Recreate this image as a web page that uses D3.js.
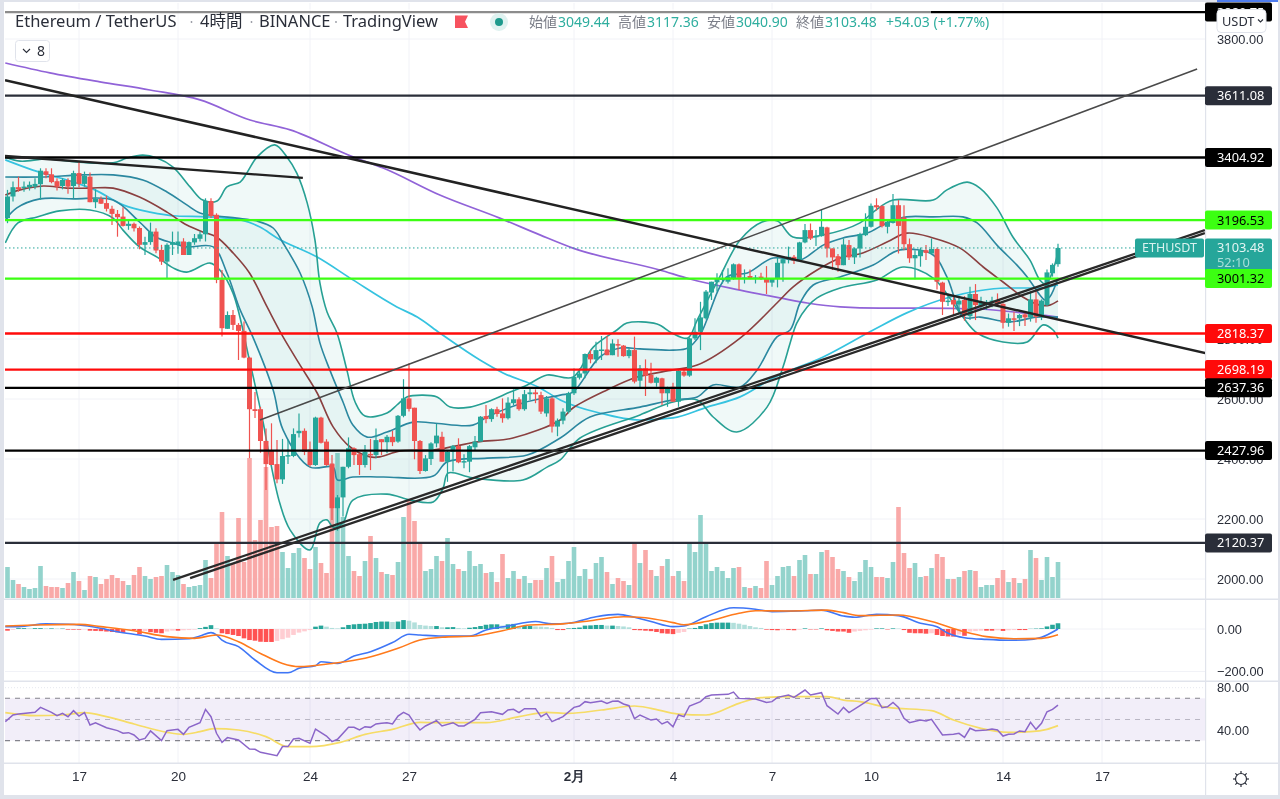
<!DOCTYPE html>
<html>
<head>
<meta charset="utf-8">
<script src="https://cdn.jsdelivr.net/npm/d3@7"></script>
<style>
  html, body { margin: 0; padding: 0; background: #fff; overflow: hidden; }
  svg { display: block; filter: blur(0.42px); font-family: "Noto Sans", "Noto Sans CJK JP", sans-serif; }
</style>
</head>
<body>
<script>
const width = 1280;
const height = 799;

// ohlc per 4h candle
const opens = [3203,3275,3306,3303,3306,3308,3316,3359,3349,3326,
    3310,3330,3310,3353,3317,3341,3256,3267,3253,3234,
    3217,3208,3177,3184,3170,3114,3123,3158,3097,3058,
    3114,3114,3125,3080,3122,3134,3149,3260,3214,2999,
    2834,2880,2847,2827,2738,2566,2566,2460,2428,2383,
    2332,2410,2410,2486,2494,2432,2380,2538,2458,2383,
    2236,2272,2374,2436,2416,2380,2417,2413,2466,2456,
    2474,2458,2544,2602,2571,2460,2360,2400,2452,2474,
    2391,2424,2443,2389,2391,2439,2458,2543,2533,2566,
    2552,2536,2586,2599,2566,2616,2622,2613,2552,2602,
    2508,2528,2558,2619,2671,2685,2750,2732,2761,2765,
    2746,2783,2778,2743,2763,2661,2702,2680,2654,2669,
    2619,2641,2591,2691,2678,2802,2824,2869,2955,2989,
    2999,2991,3002,3049,3002,3010,3002,3008,3002,2988,
    3000,3052,3069,3074,3063,3122,3163,3141,3143,3172,
    3102,3076,3046,3113,3072,3102,3146,3174,3246,3243,
    3174,3187,3246,3205,3116,3069,3076,3096,3085,3100,
    2988,2924,2930,2915,2930,2876,2950,2908,2919,2921,
    2930,2917,2854,2869,2869,2882,2872,2932,2874,2913,
    3019,3049.44];
const highs = [3297,3325,3341,3325,3325,3336,3369,3369,3369,3336,
    3336,3336,3361,3391,3358,3355,3299,3275,3278,3244,
    3230,3239,3197,3188,3175,3141,3188,3169,3114,3119,
    3158,3158,3136,3125,3150,3158,3269,3269,3219,3030,
    2892,2897,2853,2858,2741,2623,2574,2502,2519,2463,
    2467,2463,2502,2552,2502,2458,2541,2541,2466,2413,
    2280,2374,2472,2439,2419,2447,2467,2502,2466,2480,
    2494,2547,2666,2719,2571,2463,2413,2456,2517,2491,
    2430,2447,2469,2416,2447,2477,2543,2580,2569,2574,
    2602,2606,2632,2606,2630,2636,2632,2624,2610,2606,
    2535,2569,2624,2702,2702,2752,2763,2791,2810,2810,
    2799,2799,2780,2769,2808,2713,2732,2721,2674,2671,
    2641,2654,2696,2699,2804,2869,2924,2963,2991,3019,
    3030,3036,3052,3052,3032,3032,3013,3021,3043,3002,
    3072,3069,3108,3080,3124,3183,3185,3163,3232,3174,
    3102,3083,3135,3130,3105,3154,3219,3252,3269,3246,
    3196,3283,3263,3246,3135,3096,3105,3113,3135,3105,
    2991,2952,2943,2941,2943,2974,2983,2941,2930,2941,
    2952,2919,2885,2891,2883,2888,2958,2961,2932,3032,
    3052,3117.36];
const lows = [3186,3258,3291,3291,3295,3299,3264,3336,3319,3295,
    3299,3284,3269,3306,3308,3256,3236,3250,3225,3180,
    3141,3175,3164,3158,3099,3080,3114,3086,3047,3003,
    3080,3084,3080,3080,3114,3125,3125,3203,2986,2808,
    2834,2830,2730,2736,2403,2537,2421,2297,2380,2319,
    2317,2383,2406,2472,2413,2374,2377,2452,2377,2197,
    2161,2208,2369,2380,2347,2372,2363,2402,2413,2419,
    2443,2454,2539,2558,2399,2350,2358,2380,2439,2391,
    2324,2358,2386,2369,2356,2428,2458,2519,2524,2541,
    2521,2532,2580,2561,2561,2597,2586,2550,2541,2488,
    2476,2516,2552,2613,2665,2669,2719,2719,2730,2746,
    2746,2741,2741,2736,2652,2635,2610,2652,2641,2580,
    2574,2591,2574,2674,2674,2797,2763,2865,2930,2958,
    2985,2985,2997,2963,2985,2999,2985,2997,2950,2974,
    2972,2991,3052,3050,3060,3119,3130,3110,3141,3072,
    3030,3024,3046,3063,3050,3072,3143,3172,3228,3172,
    3152,3185,3085,3096,3054,2999,3041,3063,3080,2965,
    2880,2910,2877,2885,2861,2863,2863,2897,2897,2906,
    2908,2835,2841,2827,2843,2843,2858,2854,2863,2910,
    3008,3040.90];
const closes = [3275,3306,3299,3308,3314,3317,3361,3347,3323,3308,
    3330,3308,3353,3317,3344,3256,3267,3251,3234,3217,
    3206,3177,3184,3169,3114,3123,3158,3095,3058,3114,
    3123,3125,3080,3123,3136,3149,3260,3210,2997,2836,
    2880,2847,2827,2738,2566,2560,2460,2383,2380,2332,
    2410,2413,2483,2494,2424,2380,2538,2454,2380,2236,
    2272,2374,2436,2413,2380,2424,2413,2463,2456,2474,
    2456,2544,2602,2567,2460,2360,2402,2452,2478,2391,
    2424,2444,2389,2393,2443,2458,2541,2533,2566,2550,
    2536,2588,2599,2566,2616,2622,2616,2558,2602,2508,
    2528,2558,2619,2674,2685,2750,2732,2763,2765,2746,
    2785,2778,2743,2763,2658,2702,2678,2654,2671,2619,
    2638,2591,2694,2678,2802,2824,2872,2958,2991,3000,
    3002,3008,3049,3004,3005,3002,3005,3001,2988,3000,
    3054,3066,3074,3061,3122,3163,3135,3144,3174,3102,
    3072,3046,3115,3072,3102,3150,3174,3244,3239,3176,
    3191,3246,3177,3116,3069,3080,3096,3087,3100,2991,
    2924,2928,2915,2928,2880,2950,2913,2924,2924,2928,
    2917,2854,2869,2865,2880,2872,2932,2874,2928,3022,
    3047,3103.48];

// volume, relative units
const volumes = [31,18,14,11,9,10,32,12,11,11,
    10,15,26,17,8,22,21,14,19,23,
    20,17,13,23,31,22,19,21,22,33,
    26,23,14,11,12,13,38,20,55,86,
    42,34,80,36,140,58,78,131,71,72,
    46,30,45,50,40,29,51,35,25,135,
    145,81,42,27,22,37,62,40,26,24,
    23,36,81,98,77,56,27,29,42,37,
    60,34,29,27,47,32,34,25,26,16,
    44,20,27,19,22,15,18,18,30,42,
    16,19,37,51,22,29,19,35,41,26,
    14,20,17,13,56,35,48,28,22,32,
    39,22,27,17,54,46,83,54,27,31,
    27,20,30,31,11,10,12,10,37,13,
    22,31,32,22,38,43,24,24,46,48,
    41,29,27,21,17,26,38,31,21,21,
    20,36,91,45,30,35,21,22,30,44,
    41,19,19,21,27,28,27,11,13,13,
    20,28,16,20,15,19,48,40,18,41,
    21,36];

// macd histogram
const macdHist = [-8,-4,4,4,3,4,4,3,3,2,
    2,-3,-3,-3,-2,-8,-9,-10,-12,-14,
    -16,-18,-5,-5,-25,-10,-15,-18,-20,-12,
    -8,-8,-6,-5,-3,4,10,18,3,-20,
    -24,-28,-33,-44,-52,-55,-60,-61,-61,-56,
    -48,-41,-28,-17,-11,-5,11,16,11,5,
    3,8,19,22,24,25,28,33,35,35,
    33,35,42,39,31,19,16,14,14,8,
    8,9,5,3,6,9,14,20,22,22,
    16,22,24,14,14,14,12,11,9,5,
    -5,-5,3,5,7,16,17,19,19,16,
    16,14,12,8,-5,-6,-8,-10,-14,-20,
    -22,-24,-18,-14,2,5,14,22,28,30,
    30,30,29,25,20,14,8,5,-3,-5,
    -6,-5,-5,-6,-3,3,-2,-2,3,-6,
    -9,-12,-12,-18,-12,-9,-6,-3,3,3,
    -2,3,2,-5,-18,-20,-20,-22,-20,-28,
    -33,-35,-36,-26,-32,-12,-10,-8,-8,-8,
    -6,-9,-6,-5,-5,-5,1,2,3,12,
    20,27];

// line series are [candle index, value] pairs
const bbOuterUpper = [[-0.4,3407],[2.3,3393],[7.2,3400],[12.6,3390],[19.2,3387],[21.7,3403],[24.6,3413],[27.2,3403],[30.1,3373],[33.2,3307],[35.5,3263],[38.1,3260],[39.9,3307],[42.3,3323],[43.5,3353],[45.4,3407],[48.6,3447],[50.8,3407],[52.6,3353],[54.5,3253],[55.9,3130],[56.8,2987],[58.1,2890],[59.9,2820],[61.7,2697],[63.2,2590],[65,2543],[69,2553],[70.8,2580],[72.6,2607],[75.4,2613],[78.1,2607],[80.5,2573],[84.1,2573],[87.2,2590],[91.4,2623],[94.5,2647],[98.1,2680],[102.8,2673],[106.5,2773],[110.8,2830],[112.6,2853],[118.1,2850],[120.8,2820],[123.7,2803],[125.4,2863],[129.5,3007],[133.2,3130],[137.2,3190],[140,3193],[142.8,3140],[148.3,3147],[155,3187],[157.4,3223],[161,3263],[168.3,3263],[170.8,3297],[174.5,3323],[176.8,3303],[179.9,3237],[182.8,3140],[185.9,3063],[187.7,2997],[188.8,2983],[190.5,3053],[191,3097]];
const bbInnerUpper = [[-0.4,3340],[5.9,3340],[13.7,3347],[19.2,3347],[24.6,3330],[29,3290],[32.6,3247],[35,3220],[38.1,3210],[41.7,3203],[45.4,3193],[48.3,3170],[50.1,3120],[53.2,3020],[55.4,2907],[56.8,2787],[58.6,2697],[61,2590],[62.8,2513],[65.4,2473],[69,2490],[73.7,2523],[77.4,2520],[84.6,2513],[87.2,2540],[93.7,2587],[100.5,2613],[102.8,2623],[107.7,2740],[111.4,2770],[115,2767],[121,2763],[123.7,2770],[125.9,2813],[130.8,3007],[134.5,3020],[139.2,3070],[144.1,3063],[148.3,3113],[151.9,3137],[156.3,3153],[159.9,3187],[163.5,3207],[168.3,3207],[173.7,3207],[176.3,3187],[179.9,3113],[183.5,3047],[185.4,3007],[187.7,2947],[188.6,2930],[189.5,2940],[191,3003]];
const bbBasis = [[-0.4,3280],[2.3,3297],[6.5,3310],[10.8,3303],[15,3303],[19.2,3303],[24,3273],[29,3223],[32.6,3180],[35.5,3157],[38,3140],[41,3087],[44,3020],[47.2,2907],[50.1,2807],[53.4,2707],[56.3,2620],[59.2,2507],[62.3,2440],[65.9,2407],[67.7,2407],[71.4,2427],[77.4,2430],[85.4,2457],[91.9,2470],[100.5,2530],[102.8,2570],[109,2630],[114.5,2673],[121,2697],[125.4,2713],[133.2,2803],[139.9,2920],[142.8,2973],[147.2,3030],[151.4,3070],[155.5,3087],[159.9,3123],[163.5,3153],[168.3,3137],[173.2,3103],[177.4,3040],[181,2990],[184.6,2940],[187.7,2913],[189.5,2913],[191,2927]];
const bbInnerLower = [[-0.4,3197],[1.7,3237],[5.9,3267],[12,3267],[19.2,3263],[24,3190],[27,3140],[30,3120],[32.6,3107],[37.4,3107],[39.9,3020],[42.3,2897],[44.6,2807],[48.3,2630],[50.1,2497],[55,2373],[59.2,2373],[60,2330],[62.8,2340],[68.3,2340],[77.4,2343],[79.9,2390],[87.2,2403],[94.5,2413],[100.5,2470],[105.9,2540],[115,2573],[121,2597],[125.4,2607],[128.3,2647],[133.2,2640],[136.3,2697],[139.9,2807],[142.3,2830],[144.1,2920],[146.5,2980],[151.4,3007],[157.4,3047],[162.3,3097],[168.3,3080],[170.8,3007],[173.9,2873],[176.8,2873],[182.3,2857],[187,2873],[191,2873]];
const bbOuterLower = [[-0.4,3120],[1.9,3187],[5.4,3207],[9.5,3227],[15,3230],[19.2,3203],[21,3163],[24,3107],[27.2,3073],[30.1,3037],[32.6,3023],[36.8,3053],[38.6,3030],[41,2953],[44.1,2720],[46.5,2520],[47.4,2430],[49.5,2253],[51.4,2163],[55,2097],[56.8,2187],[58.1,2197],[59.2,2173],[61,2187],[62.8,2263],[69,2283],[73.2,2263],[77.4,2257],[79.2,2303],[80.1,2353],[84.6,2337],[93.7,2330],[98.1,2373],[100.5,2397],[104.1,2470],[115,2547],[121,2590],[125.4,2597],[128.3,2540],[132.6,2490],[138.1,2573],[141,2707],[142.3,2787],[143.5,2853],[145.4,2907],[147.2,2937],[151.4,2970],[158.1,2997],[162.8,3040],[168.3,3003],[173.7,2873],[176.3,2820],[181,2790],[185.4,2790],[188.3,2847],[190.1,2830],[191,2803]];
const maFast = [[-0.4,3397],[4.6,3363],[10.8,3330],[15.9,3297],[21,3247],[25.9,3223],[30.8,3210],[36.3,3207],[42.3,3197],[45.9,3173],[49,3137],[56.3,3073],[62.8,2997],[70.8,2907],[74.5,2873],[78.6,2820],[85.9,2730],[90.1,2687],[96.8,2637],[100.5,2597],[107.7,2553],[115,2530],[121,2537],[127.2,2573],[133.2,2607],[139.2,2670],[148.3,2740],[157.4,2830],[163.5,2887],[171.4,2940],[176.3,2960],[181.7,2970],[187.7,2970],[191,2980]];
const maSlow = [[-0.4,3720],[7.7,3687],[16.8,3657],[25.9,3630],[35,3597],[44.1,3530],[51.4,3497],[62.8,3407],[68.3,3370],[78.6,3280],[89.5,3203],[96.8,3147],[102.8,3103],[118.6,3030],[124.1,3000],[133.2,2963],[140.4,2937],[145.4,2920],[151.4,2907],[158.6,2903],[166.5,2903],[176.3,2900],[184.6,2887],[191,2873]];

const macdLine = [[-0.4,11],[2,11],[7,24],[11,22],[16,8],[20,-13],[25,-33],[28,-49],[33,-46],[35,-33],[37,-17],[38,-28],[39,-52],[42,-83],[45,-146],[49,-206],[51,-206],[53,-185],[56,-173],[57,-154],[60,-162],[63,-127],[66,-107],[70,-64],[73,-25],[75,-28],[79,-33],[84,-33],[87,-5],[91,14],[96,35],[99,24],[102,27],[107,58],[111,69],[114,55],[117,35],[121,11],[123,14],[127,58],[132,100],[136,93],[139,82],[145,86],[148,89],[152,61],[154,55],[158,69],[162,63],[166,27],[169,11],[171,-20],[174,-41],[178,-49],[182,-53],[185,-52],[188,-39],[191,0]];
const macdSignal = [[-0.4,14],[5,19],[13,22],[17,11],[23,-8],[29,-36],[34,-44],[38,-28],[42,-60],[46,-115],[50,-162],[53,-177],[59,-162],[65,-138],[71,-91],[75,-52],[79,-39],[85,-33],[90,-8],[95,19],[101,24],[106,39],[112,58],[116,53],[121,30],[123,20],[127,35],[133,74],[136,86],[142,85],[149,89],[152,77],[155,63],[162,66],[168,35],[174,-13],[178,-36],[183,-46],[188,-44],[191,-27]];

const rsiLine = [[-0.4,47.9],[1,54.2],[2,55.1],[5,56.7],[6,61.4],[8,56.7],[9,53.5],[10,55.7],[11,52.6],[12,58.3],[13,53.2],[14,56.4],[15,44.7],[16,46.9],[18,42.2],[20,39.4],[21,36.9],[22,37.5],[23,35.3],[24,30.6],[25,32.1],[26,39.1],[28,29.9],[29,39.4],[31,40.6],[32,35.9],[33,42.5],[35,46.9],[36,59.5],[37,52.6],[38,36.9],[39,28.3],[40,32.8],[42,30.6],[44,22],[45,21.7],[46,18.9],[49,15.7],[50,24.3],[51,24.3],[52,31.5],[53,32.1],[55,27.4],[56,40.9],[58,34.3],[59,29],[60,31.2],[62,42.5],[63,42.5],[64,40],[65,43.1],[66,42.5],[67,45.7],[68,46.3],[69,46.9],[70,45.7],[71,53.2],[72,56.7],[73,54.2],[74,46.3],[75,40],[76,43.8],[78,48.8],[79,43.8],[81,46.9],[82,43.8],[83,43.8],[85,50.1],[86,56.4],[88,57.3],[90,54.8],[91,58.9],[92,59.5],[93,56.4],[94,60.2],[96,60.2],[97,52.6],[98,55.7],[99,47.9],[101,52.6],[103,61.4],[104,62.7],[105,66.8],[106,65.8],[108,67.4],[109,65.2],[110,67.1],[111,67.4],[112,64.6],[113,63],[114,50.7],[115,54.2],[117,49.4],[118,50.4],[119,45.7],[120,47.9],[121,43.1],[122,54.2],[123,52.6],[124,62.7],[126,66.8],[127,71.5],[128,73.1],[131,73.7],[132,75.9],[133,69.9],[136,69.3],[138,66.1],[139,66.8],[140,70.9],[142,73.1],[143,70.9],[145,77.8],[146,73.1],[148,75.3],[149,63],[151,55.1],[152,61.4],[153,56.4],[155,63],[157,69.9],[158,69.9],[159,61.1],[160,62],[161,66.1],[162,61.4],[163,51],[164,46.9],[166,49.4],[167,48.5],[168,50.1],[170,35.3],[172,35.9],[173,36.9],[174,33.1],[175,41.6],[176,39.4],[178,40],[179,40.9],[180,40],[181,34.3],[182,35.9],[183,36.2],[184,39.1],[185,38.4],[186,47.2],[187,40.6],[188,46.3],[189,57.3],[190,59.5],[191,63.6]];
const rsiMa = [[-0.4,56.4],[5,53.5],[10,54.2],[14,56.4],[18,52.6],[23,45.7],[29,37.8],[32,35.9],[35,38.4],[37.5,41.3],[42,40],[47,33.7],[51,24.3],[55,24.3],[60.5,28.3],[65,35.9],[70,40.6],[75,47.2],[79,46.9],[87,46.9],[93,52.6],[98,56.7],[102,55.7],[108,58.9],[114,62.7],[117,60.5],[122,55.1],[127,54.2],[133,65.2],[137,70.6],[143,71.5],[149,71.5],[152,68.3],[155,66.8],[160,61.4],[168,58.3],[172,49.4],[177,41.6],[182,37.8],[186,38.4],[189,40.6],[191,44.1]];

// horizontal levels drawn by the author
const levelPrices = [3889.75, 3611.08, 3404.92, 3196.53, 3001.32, 2818.37, 2698.19, 2637.36, 2427.96, 2120.37];
const levelColors = ["#000", "#2a2e39", "#000", "#3cff12", "#3cff12", "#ff0a0a", "#ff0a0a", "#000", "#000", "#2a2e39"];
const levelText = ["#fff", "#fff", "#fff", "#000", "#000", "#fff", "#fff", "#fff", "#fff", "#fff"];

// trend lines: from [index, price] to [index, price]
const trendDown = [[-0.45, 3663], [217.8, 2753]];
const trendShort = [[-0.45, 3410], [53.7, 3337]];
const trendThin = [[45.9, 2530], [216.3, 3700]];
const trendUpA = [[30.1, 1997], [217.7, 3163]];
const trendUpB = [[33.2, 2003], [217.7, 3153]];

const priceGrid = [3800, 3600, 3400, 3200, 3000, 2800, 2600, 2400, 2200, 2000];
const priceTicks = [3800, 2800, 2600, 2400, 2200, 2000];
const macdTicks = [0, -200];
const rsiTicks = [80, 40];
const rsiLevels = [70, 50, 30];
const timeTickIndex = [13, 31, 55, 73, 103, 121, 139, 157, 181, 199];
const timeTickLabels = ["17", "20", "24", "27", "2月", "4", "7", "10", "14", "17"];

const lastPrice = 3103.48;
const titleParts = [["Ethereum / TetherUS", 15], ["4時間", 200], ["BINANCE", 259], ["TradingView", 343]];
const titleDots = [191.5, 251.5, 336];
const legend = [["始値", 529, "3049.44", 558], ["高値", 618, "3117.36", 647], ["安値", 707, "3040.90", 736], ["終値", 796, "3103.48", 825]];

const up = "#26a69a";
const down = "#ef5350";
const border = "#e0e3eb";
const left = 5;
const right = 1205;

const x = d3.scaleLinear().domain([0, 191]).range([7.5, 1058]);
const y = d3.scaleLinear().domain([3800, 2000]).range([39, 579]);
const yVol = d3.scaleLinear().domain([0, 140]).range([598, 458]);
const yMacd = d3.scaleLinear().domain([0, -200]).range([629, 671.5]);
const yRsi = d3.scaleLinear().domain([80, 40]).range([687.7, 730]);

const svg = d3.select("body")
    .append("svg")
    .attr("width", width)
    .attr("height", height);

svg.append("defs").append("clipPath").attr("id", "pane")
    .append("rect").attr("x", left).attr("y", 3).attr("width", right - left).attr("height", 596);

// grid
const grid = svg.append("g").attr("stroke", "#f1f2f7");
grid.selectAll("line.v")
    .data(timeTickIndex)
    .enter()
    .append("line")
    .attr("x1", d => x(d)).attr("x2", d => x(d))
    .attr("y1", 3).attr("y2", 763);
grid.selectAll("line.h")
    .data(priceGrid)
    .enter()
    .append("line")
    .attr("x1", left).attr("x2", right)
    .attr("y1", d => y(d)).attr("y2", d => y(d));
grid.selectAll("line.m")
    .data(macdTicks)
    .enter()
    .append("line")
    .attr("x1", left).attr("x2", right)
    .attr("y1", d => yMacd(d)).attr("y2", d => yMacd(d));

const chart = svg.append("g").attr("clip-path", "url(#pane)");

// volume
chart.append("g").selectAll("rect")
    .data(volumes)
    .enter()
    .append("rect")
    .attr("x", (d, i) => x(i) - 2.3)
    .attr("width", 4.6)
    .attr("y", d => yVol(d))
    .attr("height", d => yVol(0) - yVol(d))
    .attr("fill", (d, i) => closes[i] >= opens[i] ? "#93d3cc" : "#f9a9a8");

// bollinger fills and lines
const bandLine = d3.line().x(d => x(d[0])).y(d => y(d[1])).curve(d3.curveCatmullRom.alpha(0.5));
function band(upper, lower) {
    return bandLine(upper) + bandLine(lower.slice().reverse()).replace("M", "L") + "Z";
}
chart.append("path").attr("d", band(bbOuterUpper, bbOuterLower)).attr("fill", up).attr("opacity", 0.07);
chart.append("path").attr("d", band(bbInnerUpper, bbInnerLower)).attr("fill", up).attr("opacity", 0.05);

// moving averages sit under the candles
const maLine = d3.line().x(d => x(d[0])).y(d => y(d[1])).curve(d3.curveMonotoneX);
chart.append("path").attr("d", maLine(maSlow)).attr("fill", "none").attr("stroke", "#9163d8").attr("stroke-width", 1.7);
chart.append("path").attr("d", maLine(maFast)).attr("fill", "none").attr("stroke", "#36c3e0").attr("stroke-width", 1.7);

[[bbOuterUpper, "#27a094"], [bbOuterLower, "#27a094"], [bbInnerUpper, "#2b88a0"], [bbInnerLower, "#2b88a0"], [bbBasis, "#8a4040"]].forEach(function (s) {
    chart.append("path")
        .attr("d", bandLine(s[0]))
        .attr("fill", "none")
        .attr("stroke", s[1])
        .attr("stroke-width", 1.6);
});

// candles
const candles = chart.append("g").selectAll("g")
    .data(d3.range(opens.length))
    .enter()
    .append("g")
    .attr("fill", i => closes[i] >= opens[i] ? up : down)
    .attr("stroke", i => closes[i] >= opens[i] ? up : down);
candles.append("line")
    .attr("x1", i => x(i)).attr("x2", i => x(i))
    .attr("y1", i => y(highs[i])).attr("y2", i => y(lows[i]))
    .attr("stroke-width", 1.2);
candles.append("rect")
    .attr("stroke", "none")
    .attr("x", i => x(i) - 2.5)
    .attr("width", 5)
    .attr("y", i => y(Math.max(opens[i], closes[i])))
    .attr("height", i => Math.max(1.5, Math.abs(y(opens[i]) - y(closes[i]))));

// last price dotted line
chart.append("line")
    .attr("x1", left).attr("x2", 1136)
    .attr("y1", y(lastPrice)).attr("y2", y(lastPrice))
    .attr("stroke", up)
    .attr("stroke-width", 1)
    .attr("stroke-dasharray", "1.5 2.5");

// levels
chart.append("g").selectAll("line")
    .data(levelPrices)
    .enter()
    .append("line")
    .attr("x1", left).attr("x2", right)
    .attr("y1", d => y(d)).attr("y2", d => y(d))
    .attr("stroke", (d, i) => levelColors[i])
    .attr("stroke-width", 2.3);

// trend lines
const straight = d3.line().x(d => x(d[0])).y(d => y(d[1]));
chart.append("path").attr("d", straight(trendThin)).attr("stroke", "#4a4a4a").attr("stroke-width", 1.5).attr("fill", "none");
chart.append("path").attr("d", straight(trendDown)).attr("stroke", "#222").attr("stroke-width", 2.5).attr("fill", "none");
chart.append("path").attr("d", straight(trendShort)).attr("stroke", "#222").attr("stroke-width", 2.3).attr("fill", "none");
chart.append("path").attr("d", straight(trendUpA)).attr("stroke", "#2a2a2a").attr("stroke-width", 2.3).attr("fill", "none");
chart.append("path").attr("d", straight(trendUpB)).attr("stroke", "#2a2a2a").attr("stroke-width", 2.3).attr("fill", "none");

// macd pane
svg.append("g").selectAll("rect")
    .data(macdHist)
    .enter()
    .append("rect")
    .attr("x", (d, i) => x(i) - 2.3)
    .attr("width", 4.6)
    .attr("y", d => Math.min(yMacd(0), yMacd(d)))
    .attr("height", d => Math.abs(yMacd(d) - yMacd(0)))
    .attr("fill", function (d, i) {
        const prev = i > 0 ? macdHist[i - 1] : 0;
        if (d >= 0) return d >= prev ? up : "#b2dfdb";
        return d <= prev ? "#ff5252" : "#ffcdd2";
    });

const macdPath = d3.line().x(d => x(d[0])).y(d => yMacd(d[1])).curve(d3.curveMonotoneX);
svg.append("path").attr("d", macdPath(macdLine)).attr("fill", "none").attr("stroke", "#3f76f6").attr("stroke-width", 1.6);
svg.append("path").attr("d", macdPath(macdSignal)).attr("fill", "none").attr("stroke", "#ff7a1c").attr("stroke-width", 1.6);

// rsi pane
svg.append("rect")
    .attr("x", left).attr("width", right - left)
    .attr("y", yRsi(70)).attr("height", yRsi(30) - yRsi(70))
    .attr("fill", "#7e57c2").attr("opacity", 0.1);
svg.append("g").selectAll("line")
    .data(rsiLevels)
    .enter()
    .append("line")
    .attr("x1", left).attr("x2", right)
    .attr("y1", d => yRsi(d)).attr("y2", d => yRsi(d))
    .attr("stroke", (d, i) => i === 1 ? "#b9b6c4" : "#83838c")
    .attr("stroke-width", 1.1)
    .attr("stroke-dasharray", "5 5");
svg.append("line")
    .attr("x1", left).attr("x2", right)
    .attr("y1", yRsi(80)).attr("y2", yRsi(80))
    .attr("stroke", "#e6e8ef").attr("stroke-dasharray", "1 2");

const rsiPath = d3.line().x(d => x(d[0])).y(d => yRsi(d[1]));
svg.append("path").attr("d", rsiPath.curve(d3.curveMonotoneX)(rsiMa)).attr("fill", "none").attr("stroke", "#f6dc66").attr("stroke-width", 1.7);
svg.append("path").attr("d", rsiPath.curve(d3.curveLinear)(rsiLine)).attr("fill", "none").attr("stroke", "#8b66c9").attr("stroke-width", 1.5);

// frame
const frame = svg.append("g").attr("fill", border);
frame.append("rect").attr("x", 0).attr("y", 0).attr("width", 4).attr("height", height);
frame.append("rect").attr("x", 0).attr("y", 0).attr("width", width).attr("height", 2);
frame.append("rect").attr("x", 1217).attr("y", 0).attr("width", 63).attr("height", 2).attr("fill", "#4f7df0");
frame.append("rect").attr("x", 1278).attr("y", 0).attr("width", 2).attr("height", height);
frame.append("rect").attr("x", 0).attr("y", 795).attr("width", width).attr("height", 4);
frame.append("rect").attr("x", 4).attr("y", 598.5).attr("width", 1274).attr("height", 1.5);
frame.append("rect").attr("x", 4).attr("y", 680.5).attr("width", 1274).attr("height", 1.5);
frame.append("rect").attr("x", 4).attr("y", 762.5).attr("width", 1274).attr("height", 1.5);
frame.append("rect").attr("x", right).attr("y", 2).attr("width", 1.2).attr("height", 793);

// right scales
function scaleAxis(scale, ticks) {
    const g = svg.append("g")
        .attr("transform", "translate(1217,0)")
        .call(d3.axisRight(scale).tickValues(ticks).tickSize(0).tickPadding(0).tickFormat(d3.format(".2f")));
    g.select(".domain").remove();
    g.selectAll("text")
        .attr("font-family", "inherit")
        .attr("font-size", 12.8)
        .attr("fill", "#2a2e39");
}
scaleAxis(y, priceTicks);
scaleAxis(yMacd, macdTicks);
scaleAxis(yRsi, rsiTicks);

// time axis
const timeAxis = svg.append("g")
    .attr("transform", "translate(0,771)")
    .call(d3.axisBottom(x).tickValues(timeTickIndex).tickSize(0).tickPadding(0).tickFormat((d, i) => timeTickLabels[i]));
timeAxis.select(".domain").remove();
timeAxis.selectAll("text")
    .attr("font-family", "inherit")
    .attr("font-size", 13.5)
    .attr("fill", "#2a2e39")
    .attr("font-weight", (d, i) => timeTickLabels[i] === "2月" ? 700 : 400);

// last price tag, the 3001.32 label sits on top of its countdown
const tag = svg.append("g");
tag.append("rect").attr("x", 1135).attr("y", y(lastPrice) - 9.5).attr("width", 69).attr("height", 19).attr("rx", 2).attr("fill", up);
tag.append("text").attr("x", 1142).attr("y", y(lastPrice) + 4.5).attr("font-size", 12.5).attr("fill", "#d9f2ef").text("ETHUSDT");
tag.append("rect").attr("x", 1205).attr("y", y(lastPrice) - 9.5).attr("width", 67).attr("height", 35).attr("rx", 2).attr("fill", up);
tag.append("text").attr("x", 1217).attr("y", y(lastPrice) + 4.5).attr("font-size", 12.8).attr("fill", "#e4f5f3").text(d3.format(".2f")(lastPrice));
tag.append("text").attr("x", 1217).attr("y", y(lastPrice) + 19).attr("font-size", 12.8).attr("fill", "#a9dfd9").text("52:10");

// level labels
const labels = svg.append("g").selectAll("g")
    .data(levelPrices)
    .enter()
    .append("g")
    .attr("transform", d => "translate(1205," + y(d) + ")");
labels.append("rect")
    .attr("x", 0).attr("y", -9.5)
    .attr("width", 67).attr("height", 19)
    .attr("rx", 2)
    .attr("fill", (d, i) => levelColors[i]);
labels.append("text")
    .attr("x", 12).attr("y", 4.5)
    .attr("font-size", 12.8)
    .attr("fill", (d, i) => levelText[i])
    .text(d => d3.format(".2f")(d));

// usdt button
svg.append("rect").attr("x", 1217).attr("y", 9.5).attr("width", 49).attr("height", 23).attr("rx", 4)
    .attr("fill", "#fff").attr("stroke", "#e0e3eb");
svg.append("text").attr("x", 1222).attr("y", 25.5).attr("font-size", 12.8).attr("fill", "#2a2e39").text("USDT");
svg.append("path").attr("d", "M1258 19.5l2.5 2.5 2.5-2.5").attr("fill", "none").attr("stroke", "#2a2e39").attr("stroke-width", 1.1);

// header
svg.append("rect").attr("x", left).attr("y", 9).attr("width", 926).attr("height", 21).attr("fill", "#fff").attr("opacity", 0.55);
const head = svg.append("g");
titleParts.forEach(function (t) {
    head.append("text").attr("x", t[1]).attr("y", 27).attr("font-size", 16.5).attr("fill", "#2a2e39").text(t[0]);
});
titleDots.forEach(function (d) {
    head.append("circle").attr("cx", d).attr("cy", 22).attr("r", 0.9).attr("fill", "#9598a1");
});
head.append("path").attr("d", "M455 15.5h13l-3 6.2 3 6.2h-13z").attr("fill", "#f7525f");
head.append("circle").attr("cx", 499).attr("cy", 22).attr("r", 9).attr("fill", "#dff2f0");
head.append("circle").attr("cx", 499).attr("cy", 22).attr("r", 4).attr("fill", "#1d9a8c");
legend.forEach(function (l) {
    head.append("text").attr("x", l[1]).attr("y", 26.5).attr("font-size", 14).attr("fill", "#7b7e88").text(l[0]);
    head.append("text").attr("x", l[3]).attr("y", 26.5).attr("font-size", 14).attr("fill", "#2fae9f").text(l[2]);
});
head.append("text").attr("x", 886).attr("y", 26.5).attr("font-size", 14).attr("fill", "#2fae9f").text("+54.03 (+1.77%)");

// collapse button
svg.append("rect").attr("x", 15.5).attr("y", 40.5).attr("width", 34).attr("height", 21).attr("rx", 3)
    .attr("fill", "#fff").attr("stroke", "#e0e3eb");
svg.append("path").attr("d", "M23 49l3.5 3.5 3.5-3.5").attr("fill", "none").attr("stroke", "#2a2e39").attr("stroke-width", 1.1);
svg.append("text").attr("x", 37).attr("y", 56).attr("font-size", 14).attr("fill", "#2a2e39").text("8");

// settings sun
const sun = svg.append("g").attr("transform", "translate(1241,779)").attr("stroke", "#2a2e39").attr("fill", "none").attr("stroke-width", 1.2);
sun.append("circle").attr("r", 5.5);
sun.selectAll("line")
    .data(d3.range(8))
    .enter()
    .append("line")
    .attr("x1", 5.5).attr("x2", 8)
    .attr("transform", d => "rotate(" + d * 45 + ")");
</script>
</body>
</html>
